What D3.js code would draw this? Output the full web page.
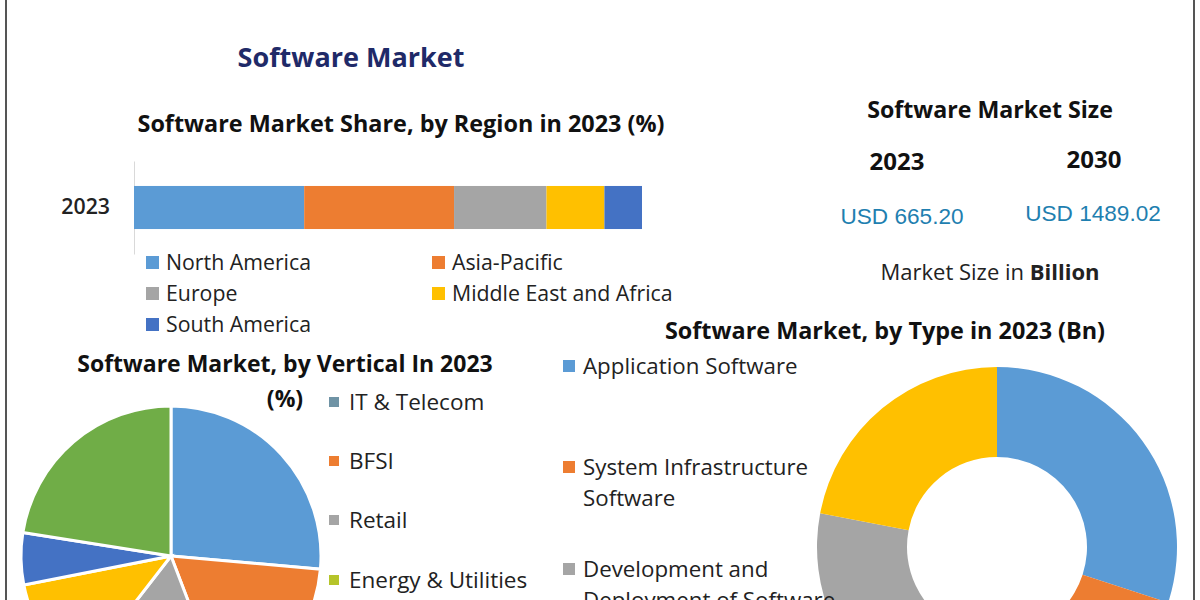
<!DOCTYPE html>
<html>
<head>
<meta charset="utf-8">
<script src="https://cdn.jsdelivr.net/npm/d3@7"></script>
<style>
  html, body { margin: 0; padding: 0; background: #fff; overflow: hidden; }
  text { font-family: "Open Sans", sans-serif; }
</style>
</head>
<body>
<div id="chart"></div>
<script>
// region share, stacked bar
const regionYear = ["2023"];
const regionNames = ["North America", "Asia-Pacific", "Europe", "Middle East and Africa", "South America"];
const regionShare = [33.5, 29.5, 18.2, 11.4, 7.4];
const regionColors = ["#5b9bd5", "#ed7d31", "#a5a5a5", "#ffc000", "#4472c4"];

// vertical pie
const verticalNames = ["IT & Telecom", "BFSI", "Retail", "Energy & Utilities"];
const verticalShare = [26.4, 17.8, 16.3, 11.4, 5.6, 22.5];
const verticalColors = ["#5b9bd5", "#ed7d31", "#a5a5a5", "#ffc000", "#4472c4", "#70ad47"];
const verticalLegendColors = ["#6f93a5", "#ed7d31", "#a5a5a5", "#b5c42a"];

// type donut
const typeNames = [["Application Software"], ["System Infrastructure", "Software"], ["Development and", "Deployment of Software"]];
const typeValues = [30, 28, 20, 22];
const typeColors = ["#5b9bd5", "#ed7d31", "#a5a5a5", "#ffc000"];

// market size panel
const sizeYears = ["2023", "2030"];
const sizeValues = ["USD 665.20", "USD 1489.02"];

const width = 1200, height = 600;
const svg = d3.select("#chart").append("svg")
    .attr("width", width)
    .attr("height", height)
    .style("display", "block");

// frame, only the two sides show
svg.append("line").attr("x1", 6).attr("x2", 6).attr("y1", 0).attr("y2", height).attr("stroke", "#555").attr("stroke-width", 2);
svg.append("line").attr("x1", 1194).attr("x2", 1194).attr("y1", 0).attr("y2", height).attr("stroke", "#555").attr("stroke-width", 2);

function label(x, y, str, size, opts) {
    opts = opts || {};
    return svg.append("text")
        .attr("x", x).attr("y", y)
        .attr("text-anchor", opts.anchor || "start")
        .attr("font-size", size)
        .attr("font-weight", opts.weight || 400)
        .attr("fill", opts.fill || "#222")
        .style("font-family", opts.font || null)
        .text(str);
}

label(351, 67, "Software Market", 27, {anchor: "middle", weight: 700, fill: "#1f2a68"});
label(401, 132, "Software Market Share, by Region in 2023 (%)", 23.4, {anchor: "middle", weight: 700, fill: "#111"});

// stacked bar
const barX = d3.scaleLinear().domain([0, d3.sum(regionShare)]).range([134, 642]);
const barY = d3.scaleBand().domain(regionYear).range([161, 254]).paddingInner(0).paddingOuter(0.58);

svg.append("g")
    .attr("transform", "translate(134,0)")
    .call(d3.axisLeft(barY).tickSize(0).tickPadding(24))
    .call(g => g.select(".domain").attr("stroke", "#d9d9d9"))
    .call(g => g.selectAll("text").attr("font-size", 21.3).attr("font-weight", 600).attr("fill", "#222").style("font-family", "'Open Sans', sans-serif"));

const stackSeries = d3.stack().keys(d3.range(regionShare.length))([regionShare]);
svg.append("g").selectAll("rect")
    .data(stackSeries)
    .join("rect")
    .attr("x", d => barX(d[0][0]))
    .attr("width", d => barX(d[0][1]) - barX(d[0][0]))
    .attr("y", barY(regionYear[0]))
    .attr("height", barY.bandwidth())
    .attr("fill", (d, i) => regionColors[i]);

// region legend, two columns
const regionCols = [146, 432];
const regionRows = [262, 293, 324];
regionNames.forEach((name, i) => {
    const lx = regionCols[i % 2], ly = regionRows[Math.floor(i / 2)];
    svg.append("rect").attr("x", lx).attr("y", ly - 6).attr("width", 13).attr("height", 13).attr("fill", regionColors[i]);
    label(lx + 20, ly + 8, name, 21.3);
});

// market size panel
label(990, 118, "Software Market Size", 23.2, {anchor: "middle", weight: 700, fill: "#111"});
label(897, 170, sizeYears[0], 24, {anchor: "middle", weight: 700, fill: "#111"});
label(1094, 168, sizeYears[1], 24, {anchor: "middle", weight: 700, fill: "#111"});
label(902, 224, sizeValues[0], 22.6, {anchor: "middle", fill: "#1f7fb0", font: "'Liberation Sans', sans-serif"});
label(1093, 221, sizeValues[1], 22.6, {anchor: "middle", fill: "#1f7fb0", font: "'Liberation Sans', sans-serif"});
const sizeNote = label(990, 280, "Market Size in ", 22, {anchor: "middle"});
sizeNote.append("tspan").attr("font-weight", 700).text("Billion");

// pie
label(285, 372, "Software Market, by Vertical In 2023", 23, {anchor: "middle", weight: 700, fill: "#111"});
label(285, 407, "(%)", 23, {anchor: "middle", weight: 700, fill: "#111"});

const pieGen = d3.pie().sort(null);
const pieArc = d3.arc().innerRadius(0).outerRadius(150);
svg.append("g")
    .attr("transform", "translate(171,556)")
    .selectAll("path")
    .data(pieGen(verticalShare))
    .join("path")
    .attr("d", pieArc)
    .attr("fill", (d, i) => verticalColors[i])
    .attr("stroke", "#fff")
    .attr("stroke-width", 3);

const verticalRows = [402, 461, 520, 580];
verticalNames.forEach((name, i) => {
    svg.append("rect").attr("x", 329).attr("y", verticalRows[i] - 5).attr("width", 10).attr("height", 10).attr("fill", verticalLegendColors[i]);
    label(349, verticalRows[i] + 8, name, 22.5);
});

// donut
label(885, 339, "Software Market, by Type in 2023 (Bn)", 23.4, {anchor: "middle", weight: 700, fill: "#111"});

const donutArc = d3.arc().innerRadius(90).outerRadius(180);
svg.append("g")
    .attr("transform", "translate(997,547)")
    .selectAll("path")
    .data(pieGen(typeValues))
    .join("path")
    .attr("d", donutArc)
    .attr("fill", (d, i) => typeColors[i]);

const typeRows = [366, 467, 569];
typeNames.forEach((lines, i) => {
    svg.append("rect").attr("x", 563).attr("y", typeRows[i] - 6).attr("width", 12).attr("height", 12).attr("fill", typeColors[i]);
    lines.forEach((line, j) => label(583, typeRows[i] + 8 + j * 31, line, 22.3));
});
</script>
</body>
</html>
